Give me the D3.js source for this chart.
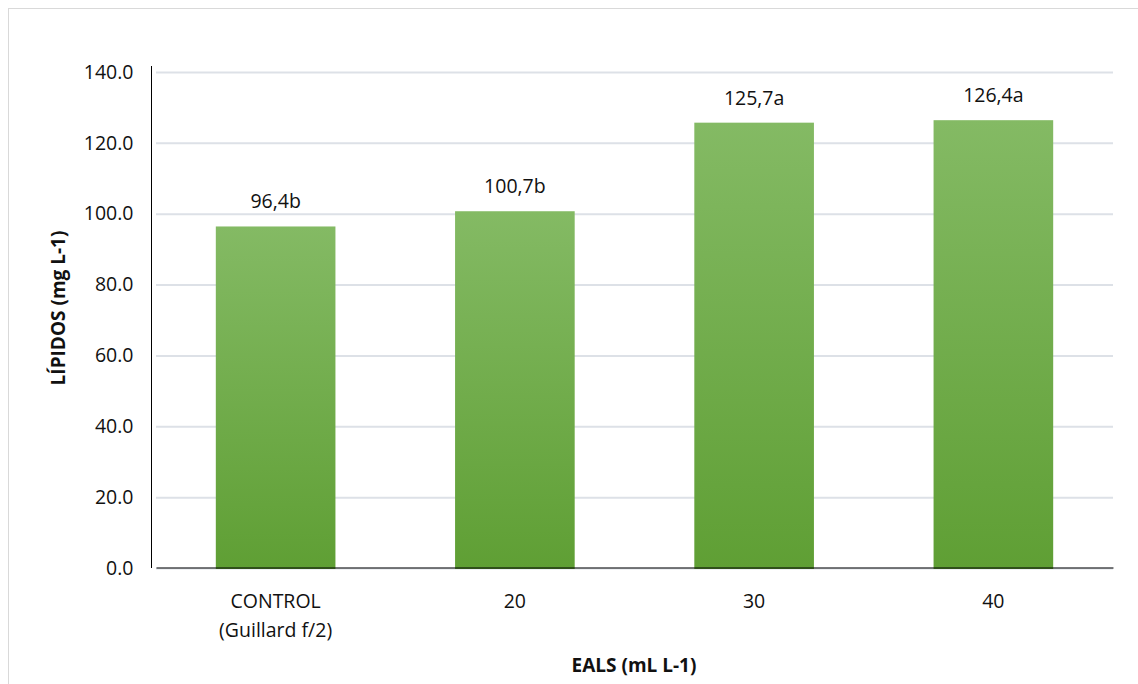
<!DOCTYPE html>
<html>
<head>
<meta charset="utf-8">
<script src="https://cdn.jsdelivr.net/npm/d3@7"></script>
<style>
  html, body { margin: 0; padding: 0; background: #fff; }
  svg { display: block; font-family: "Open Sans", "Liberation Sans", Arial, sans-serif; }
</style>
</head>
<body>
<svg id="chart" width="1138" height="684"></svg>
<script>
// Lipid content per treatment
const categories = ["CONTROL\n(Guillard f/2)", "20", "30", "40"];
const values = [96.4, 100.7, 125.7, 126.4];
const valueLabels = ["96,4b", "100,7b", "125,7a", "126,4a"];
const yTicks = [0, 20, 40, 60, 80, 100, 120, 140];

const FONT = "Open Sans, Liberation Sans, Arial, sans-serif";
const svg = d3.select("#chart");
const W = 1138, H = 684;
const margin = { left: 156, right: 25, top: 72, bottom: 116 };
const plotW = W - margin.left - margin.right;
const plotH = H - margin.top - margin.bottom;

// chart frame
svg.append("rect")
  .attr("x", 8.5).attr("y", 8.5)
  .attr("width", W).attr("height", H)
  .attr("fill", "#fff").attr("stroke", "#d9d9d9").attr("stroke-width", 1);

const defs = svg.append("defs");
const grad = defs.append("linearGradient")
  .attr("id", "barFill").attr("x1", 0).attr("y1", 0).attr("x2", 0).attr("y2", 1);
grad.append("stop").attr("offset", "0%").attr("stop-color", "#84ba64");
grad.append("stop").attr("offset", "100%").attr("stop-color", "#5f9f34");

const g = svg.append("g").attr("transform", `translate(${margin.left},${margin.top})`);

const x = d3.scaleBand().domain(categories).range([0, plotW])
  .paddingInner(0.5).paddingOuter(0.25);
const y = d3.scaleLinear().domain([0, 140]).range([plotH, 0]);

// gridlines
g.append("g").selectAll("line").data(yTicks).join("line")
  .attr("x1", 0).attr("x2", plotW)
  .attr("y1", d => y(d) + 0.5).attr("y2", d => y(d) + 0.5)
  .attr("stroke", "#dde1e7").attr("stroke-width", 2);

// bars
g.append("g").selectAll("rect").data(values).join("rect")
  .attr("x", (d, i) => x(categories[i]))
  .attr("width", x.bandwidth())
  .attr("y", d => y(d))
  .attr("height", d => y(0) - y(d) + 1)
  .attr("fill", "url(#barFill)");

// value labels
g.append("g").selectAll("text").data(values).join("text")
  .attr("x", (d, i) => x(categories[i]) + x.bandwidth() / 2)
  .attr("y", d => y(d) - 18)
  .attr("text-anchor", "middle")
  .attr("font-size", 19.5).attr("fill", "#111")
  .text((d, i) => valueLabels[i]);

// y axis
const yAxis = g.append("g").attr("transform", "translate(-4.5,0)")
  .call(d3.axisLeft(y).tickValues(yTicks).tickFormat(d3.format(".1f")).tickSize(0).tickPadding(18));
yAxis.select(".domain").attr("stroke", "#000").attr("d", `M0,${y(140) - 6}V${plotH}`);
yAxis.selectAll("text").attr("font-size", 19.5).attr("fill", "#111")
  .attr("font-family", FONT);

// x axis
const xAxis = g.append("g").attr("transform", `translate(0,${plotH - 0.5})`)
  .call(d3.axisBottom(x).tickSize(0).tickFormat(""));
xAxis.select(".domain").attr("stroke", "#000");
xAxis.selectAll(".tick").each(function (d) {
  const lines = d.split("\n");
  const t = d3.select(this).append("text")
    .attr("text-anchor", "middle").attr("fill", "#111")
    .attr("font-size", 19.5)
    .attr("font-family", FONT);
  lines.forEach((ln, i) => {
    t.append("tspan").attr("x", 0).attr("y", 40 + i * 29).text(ln);
  });
});

// axis titles
svg.append("text")
  .attr("transform", "translate(65,308) rotate(-90)")
  .attr("text-anchor", "middle")
  .attr("font-size", 19).attr("font-weight", "bold").attr("fill", "#111")
  .text("LÍPIDOS (mg L-1)");

svg.append("text")
  .attr("x", 634).attr("y", 672)
  .attr("text-anchor", "middle")
  .attr("font-size", 19).attr("font-weight", "bold").attr("fill", "#111")
  .text("EALS (mL L-1)");
</script>
</body>
</html>
